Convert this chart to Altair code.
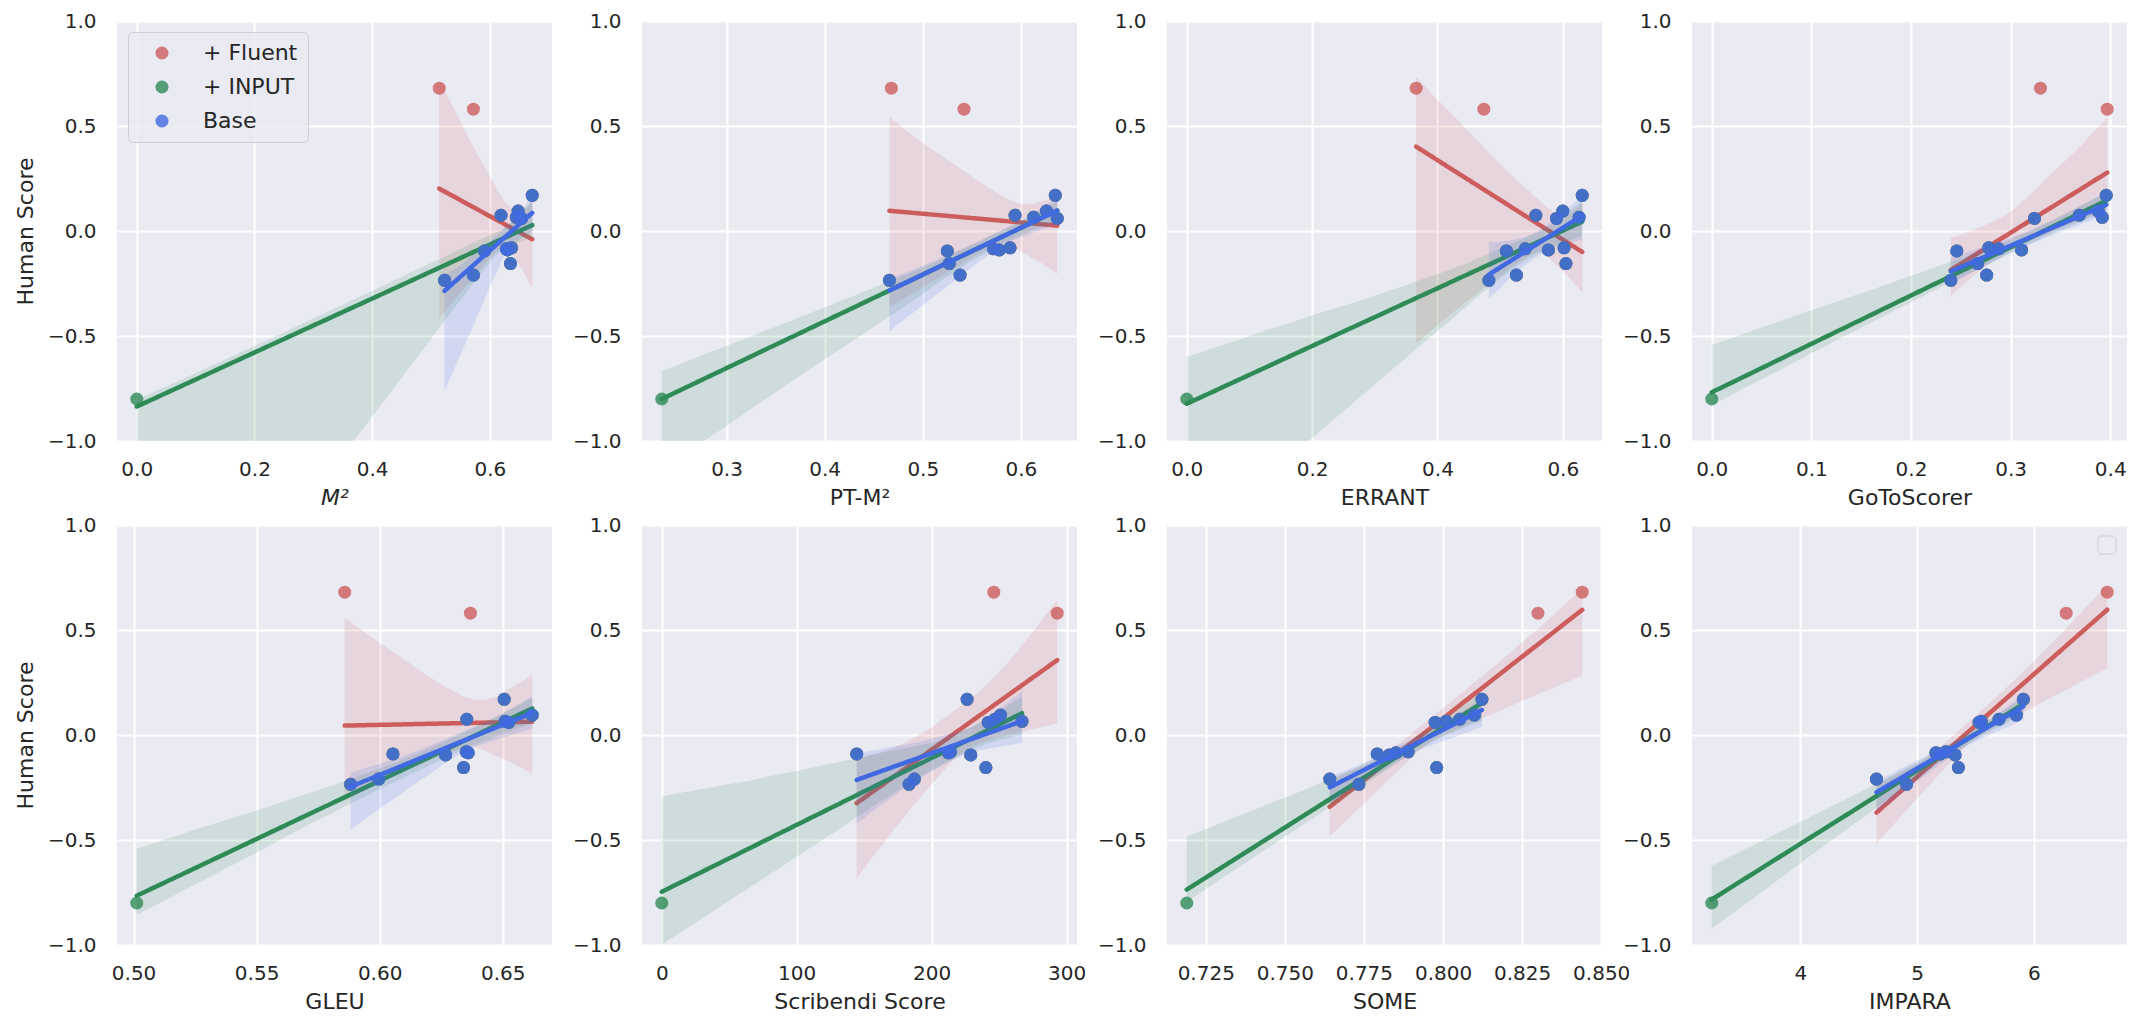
import itertools
import numpy as np
import pandas as pd
import altair as alt

# ---------------- data ----------------
SERIES = ["+ Fluent", "+ INPUT", "Base"]
COLORS = ["indianred", "seagreen", "royalblue"]

TITLES = ["M²", "PT-M²", "ERRANT", "GoToScorer", "GLEU", "Scribendi Score", "SOME", "IMPARA"]

HUMAN_BASE = [0.17, 0.095, 0.075, 0.065, 0.06, -0.08, -0.085, -0.09, -0.095, -0.155, -0.21, -0.235]
HUMAN_FLUENT = [0.68, 0.58]
HUMAN_INPUT = [-0.80]

M2_BASE = [0.672, 0.648, 0.619, 0.645, 0.654, 0.637, 0.628, 0.630, 0.591, 0.635, 0.572, 0.523]
PTM2_BASE = [0.635, 0.626, 0.594, 0.613, 0.637, 0.589, 0.572, 0.578, 0.525, 0.527, 0.538, 0.466]
ERRANT_BASE = [0.631, 0.600, 0.557, 0.626, 0.590, 0.602, 0.540, 0.577, 0.510, 0.605, 0.526, 0.482]
GOTO_BASE = [0.396, 0.388, 0.369, 0.392, 0.324, 0.278, 0.288, 0.311, 0.246, 0.267, 0.276, 0.240]
GLEU_BASE = [0.6506, 0.662, 0.6354, 0.6510, 0.6525, 0.6352, 0.6360, 0.6054, 0.6268, 0.6341, 0.5996, 0.5882]
SCRIB_BASE = [226.3, 251.1, 246.9, 267.0, 242.0, 214.0, 212.5, 144.5, 229.0, 240.2, 187.2, 183.3]
SOME_BASE = [0.8123, 0.8099, 0.8053, 0.801, 0.7975, 0.7890, 0.7851, 0.7792, 0.783, 0.7980, 0.7642, 0.7734]
IMPARA_BASE = [5.909, 5.849, 5.701, 5.55, 5.53, 5.245, 5.160, 5.20, 5.325, 5.353, 4.652, 4.909]

M2_FLUENT = [0.514, 0.572]
PTM2_FLUENT = [0.468, 0.542]
ERRANT_FLUENT = [0.366, 0.474]
GOTO_FLUENT = [0.330, 0.397]
GLEU_FLUENT = [0.5858, 0.6369]
SCRIB_FLUENT = [246.1, 293.1]
SOME_FLUENT = [0.844, 0.830]
IMPARA_FLUENT = [6.627, 6.276]

M2_INPUT = [0.0]
PTM2_INPUT = [0.234]
ERRANT_INPUT = [0.0]
GOTO_INPUT = [0.0]
GLEU_INPUT = [0.5013]
SCRIB_INPUT = [0.0]
SOME_INPUT = [0.719]
IMPARA_INPUT = [3.242]

TICKS = [
    [0.0, 0.2, 0.4, 0.6],
    [0.3, 0.4, 0.5, 0.6],
    [0.0, 0.2, 0.4, 0.6],
    [0.0, 0.1, 0.2, 0.3, 0.4],
    [0.50, 0.55, 0.60, 0.65],
    [0, 100, 200, 300],
    [0.725, 0.750, 0.775, 0.800, 0.825, 0.850],
    [4, 5, 6],
]
FORMATS = [".1f", ".1f", ".1f", ".1f", ".2f", "d", ".3f", "d"]
Y_TICKS = [-1.0, -0.5, 0.0, 0.5, 1.0]

BASE_X = [M2_BASE, PTM2_BASE, ERRANT_BASE, GOTO_BASE, GLEU_BASE, SCRIB_BASE, SOME_BASE, IMPARA_BASE]
FLUENT_X = [M2_FLUENT, PTM2_FLUENT, ERRANT_FLUENT, GOTO_FLUENT, GLEU_FLUENT, SCRIB_FLUENT, SOME_FLUENT, IMPARA_FLUENT]
INPUT_X = [M2_INPUT, PTM2_INPUT, ERRANT_INPUT, GOTO_INPUT, GLEU_INPUT, SCRIB_INPUT, SOME_INPUT, IMPARA_INPUT]


# ---------------- regression + resampling confidence band ----------------
def reg_band(x, y, n_grid=100):
    x = np.asarray(x, float)
    y = np.asarray(y, float)
    grid = np.linspace(x.min(), x.max(), n_grid)
    n = len(x)
    m = int(round(n * n / (2 * n - 1)))  # half-sampling (deterministic stand-in for bootstrap)
    combos = np.array(list(itertools.combinations(range(n), m)))
    xs, ys = x[combos], y[combos]
    xm, ym = xs.mean(1, keepdims=True), ys.mean(1, keepdims=True)
    sxx = ((xs - xm) ** 2).sum(1)
    sxy = ((xs - xm) * (ys - ym)).sum(1)
    ok = sxx > 0
    slope = sxy[ok] / sxx[ok]
    icpt = ym[ok, 0] - slope * xm[ok, 0]
    preds = icpt[:, None] + slope[:, None] * grid[None, :]
    lo, hi = np.percentile(preds, [2.5, 97.5], axis=0)
    b = np.polyfit(x, y, 1)
    return grid, np.polyval(b, grid), lo, hi


pt_rows, band_rows, domains = [], [], []
for p in range(8):
    sets = {
        "+ Fluent": (FLUENT_X[p] + BASE_X[p], HUMAN_FLUENT + HUMAN_BASE),
        "+ INPUT": (INPUT_X[p] + BASE_X[p], HUMAN_INPUT + HUMAN_BASE),
        "Base": (BASE_X[p], HUMAN_BASE),
    }
    allx = FLUENT_X[p] + INPUT_X[p] + BASE_X[p]
    lo_x, hi_x = min(allx), max(allx)
    pad = 0.05 * (hi_x - lo_x)
    domains.append([lo_x - pad, hi_x + pad])
    for s, (xx, yy) in sets.items():
        for a, b in zip(xx, yy):
            pt_rows.append({"panel": p, "series": s, "x": a, "y": b})
        g, yh, lo, hi = reg_band(xx, yy)
        for a, b, c, d in zip(g, yh, lo, hi):
            band_rows.append({"panel": p, "series": s, "x": a, "yhat": b, "lo": c, "hi": d})

points = pd.DataFrame(pt_rows)
bands = pd.DataFrame(band_rows)

TEXT = "#262626"
FONT = "DejaVu Sans"
color_scale = alt.Scale(domain=SERIES, range=COLORS)
y_scale = alt.Scale(domain=[-1, 1], nice=False, zero=False)

legend = alt.Legend(
    title=None, orient="none", legendX=11, legendY=11,
    fillColor="rgba(234,234,242,0.8)", strokeColor="rgba(204,204,204,0.9)", cornerRadius=5,
    padding=10, labelFontSize=22, labelFont=FONT, labelColor=TEXT,
    symbolSize=170, symbolOpacity=0.8, symbolType="circle", symbolStrokeWidth=0,
    symbolOffset=13, labelOffset=30, rowPadding=12,
)


def panel(p):
    xaxis = alt.Axis(
        title=TITLES[p], values=TICKS[p], format=FORMATS[p], labelFlush=False, labelOverlap=False,
        ticks=False, domain=False, grid=True, gridColor="white", gridWidth=2,
        labelFontSize=20, labelFont=FONT, labelColor=TEXT, labelPadding=18,
        titleFontSize=22, titleFont=FONT, titleColor=TEXT, titleFontWeight="normal", titlePadding=8,
        titleFontStyle="italic" if p == 0 else "normal",
    )
    yaxis = alt.Axis(
        title="Human Score" if p % 4 == 0 else None, values=Y_TICKS, format=".1f",
        labelFlush=False, labelOverlap=False,
        ticks=False, domain=False, grid=True, gridColor="white", gridWidth=2,
        labelFontSize=20, labelFont=FONT, labelColor=TEXT, labelPadding=21,
        titleFontSize=22, titleFont=FONT, titleColor=TEXT, titleFontWeight="normal", titlePadding=10,
    )
    x_enc = alt.X("x:Q", scale=alt.Scale(domain=domains[p], nice=False, zero=False), axis=xaxis)
    layers = []
    for s, c in zip(SERIES, COLORS):
        flt = f"datum.panel == {p} && datum.series == '{s}'"
        layers.append(
            alt.Chart(points).transform_filter(flt).mark_circle(size=170, opacity=0.8).encode(
                x=x_enc,
                y=alt.Y("y:Q", scale=y_scale, axis=yaxis),
                color=alt.Color("series:N", scale=color_scale, legend=legend),
            )
        )
        layers.append(
            alt.Chart(bands).transform_filter(flt).mark_area(opacity=0.15, color=c, clip=True).encode(
                x=x_enc,
                y=alt.Y("lo:Q", scale=y_scale, axis=yaxis),
                y2="hi:Q",
            )
        )
        layers.append(
            alt.Chart(bands).transform_filter(flt).mark_line(color=c, strokeWidth=4.5, strokeCap="round", clip=True).encode(
                x=x_enc,
                y=alt.Y("yhat:Q", scale=y_scale, axis=yaxis),
            )
        )
    if p == 7:
        layers.append(
            alt.Chart(alt.Data(values=[{}])).mark_rect(
                fill="rgba(234,234,242,0.8)", stroke="rgba(204,204,204,0.9)", strokeWidth=1, cornerRadius=3
            ).encode(x=alt.value(406), x2=alt.value(424), y=alt.value(11), y2=alt.value(29))
        )
    return alt.layer(*layers).properties(width=435, height=420)


chart = alt.concat(
    *[panel(p) for p in range(8)], columns=4, spacing={"row": 84, "column": 90}, bounds="flush"
).resolve_scale(
    x="independent", y="independent"
).properties(
    padding={"left": 6, "top": 3, "right": 5, "bottom": 0}
).configure(
    font=FONT
).configure_view(
    fill="#EAEAF2", strokeWidth=0
)

chart.save("out.html", embed_options={"renderer": "svg", "actions": False})
